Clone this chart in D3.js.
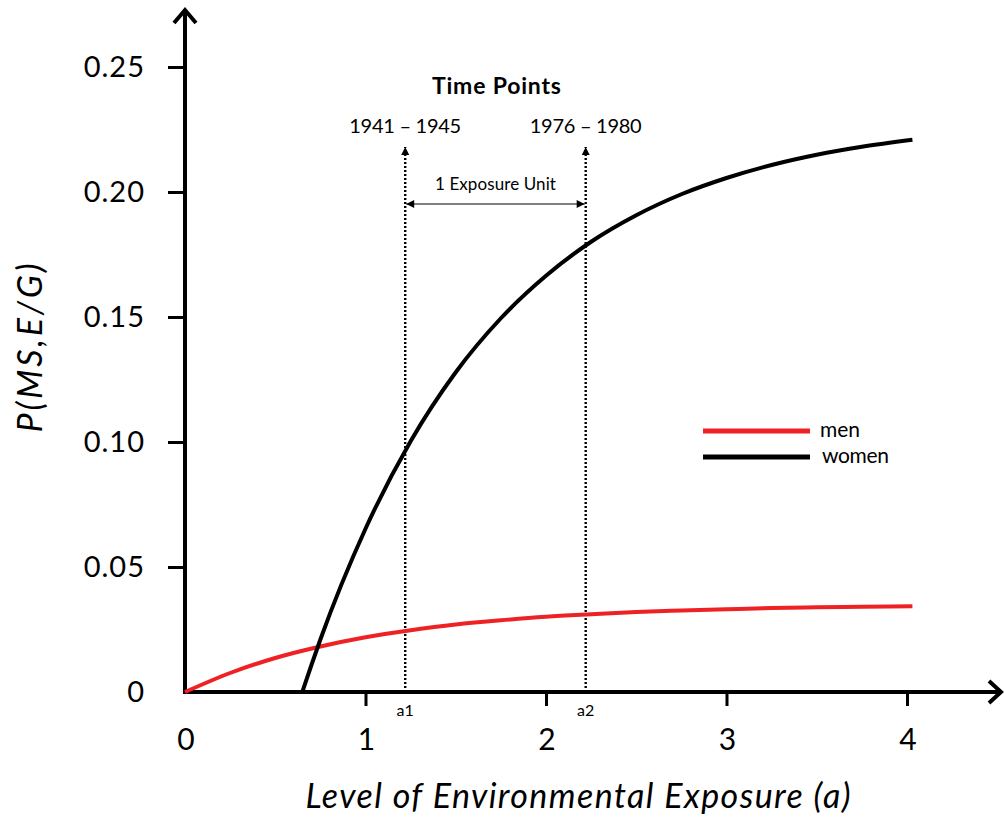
<!DOCTYPE html>
<html>
<head>
<meta charset="utf-8">
<script src="https://cdn.jsdelivr.net/npm/d3@7"></script>
<style>
  body { margin: 0; background: #fff; }
  text { font-family: Lato, "Open Sans", sans-serif; fill: #000; }
</style>
</head>
<body>
<div id="chart"></div>
<script>
// values
var xTicks = [0, 1, 2, 3, 4];
var yTicks = [0, 0.05, 0.10, 0.15, 0.20, 0.25];
var yTickLabels = ["0", "0.05", "0.10", "0.15", "0.20", "0.25"];

var menX = [0, 0.25, 0.5, 0.75, 1, 1.25, 1.5, 1.75, 2, 2.25, 2.5, 2.75, 3, 3.25, 3.5, 3.75, 4.03];
var menY = [0, 0.0076, 0.0136, 0.0182, 0.0219, 0.0247, 0.0270, 0.0287, 0.0301, 0.0311, 0.0320, 0.0326, 0.0331, 0.0336, 0.0339, 0.0341, 0.0343];

var womenX = [0.65, 0.7, 0.75, 1, 1.25, 1.5, 1.75, 2, 2.25, 2.5, 2.75, 3, 3.25, 3.5, 3.75, 4.03];
var womenY = [0, 0.0107, 0.0210, 0.0653, 0.1003, 0.1279, 0.1495, 0.1665, 0.1801, 0.1907, 0.1991, 0.2056, 0.2108, 0.2149, 0.2181, 0.2209];

var timePoints = [1.22, 2.22];
var timeLabels = ["1941 \u2013 1945", "1976 \u2013 1980"];
var timeMarks = ["a1", "a2"];

var width = 1004, height = 818;
var x0 = 185, y0 = 692;

var svg = d3.select("#chart")
  .append("svg")
  .attr("width", width)
  .attr("height", height);

var x = d3.scaleLinear().domain([0, 4]).range([x0, 907]);
var y = d3.scaleLinear().domain([0, 0.25]).range([y0, 67]);

var defs = svg.append("defs");
defs.append("marker")
  .attr("id", "small")
  .attr("viewBox", "0 0 10 10")
  .attr("refX", 10).attr("refY", 5)
  .attr("markerWidth", 9).attr("markerHeight", 8)
  .attr("markerUnits", "userSpaceOnUse")
  .attr("orient", "auto-start-reverse")
  .append("path")
    .attr("d", "M0,0 L10,5 L0,10 Z")
    .attr("fill", "#000");

// x axis: ticks below
var xAxis = svg.append("g")
  .attr("transform", "translate(0," + y0 + ")")
  .call(d3.axisBottom(x).tickValues(xTicks.slice(1)).tickSize(14).tickFormat(""));
xAxis.select(".domain").remove();
xAxis.selectAll(".tick line").attr("stroke", "#000").attr("stroke-width", 3);

svg.selectAll("xlab")
  .data(xTicks)
  .enter()
  .append("text")
    .attr("x", function(d) { return x(d) + 1; })
    .attr("y", 750)
    .attr("text-anchor", "middle")
    .style("font-size", "30px")
    .text(function(d) { return d; });

// y axis: ticks on left
var yAxis = svg.append("g")
  .attr("transform", "translate(" + x0 + ",0)")
  .call(d3.axisLeft(y).tickValues(yTicks.slice(1)).tickSize(17).tickFormat(""));
yAxis.select(".domain").remove();
yAxis.selectAll(".tick line").attr("stroke", "#000").attr("stroke-width", 3);

svg.selectAll("ylab")
  .data(yTicks)
  .enter()
  .append("text")
    .attr("x", 145)
    .attr("y", function(d) { return y(d); })
    .attr("dy", "0.36em")
    .attr("text-anchor", "end")
    .style("font-size", "29px")
    .style("letter-spacing", "1px")
    .text(function(d, i) { return yTickLabels[i]; });

// axis lines with open arrow heads
svg.append("line")
  .attr("x1", x0).attr("y1", y0 + 2)
  .attr("x2", x0).attr("y2", 11)
  .attr("stroke", "#000").attr("stroke-width", 4);
svg.append("path")
  .attr("d", "M" + (x0 - 11) + ",23 L" + x0 + ",10 L" + (x0 + 11) + ",23")
  .attr("fill", "none").attr("stroke", "#000").attr("stroke-width", 4);
svg.append("line")
  .attr("x1", x0 - 2).attr("y1", y0)
  .attr("x2", 1000).attr("y2", y0)
  .attr("stroke", "#000").attr("stroke-width", 4);
svg.append("path")
  .attr("d", "M989," + (y0 - 11) + " L1001," + y0 + " L989," + (y0 + 11))
  .attr("fill", "none").attr("stroke", "#000").attr("stroke-width", 4);

// time point verticals
svg.selectAll("tp")
  .data(timePoints)
  .enter()
  .append("line")
    .attr("x1", function(d) { return x(d); })
    .attr("x2", function(d) { return x(d); })
    .attr("y1", y0)
    .attr("y2", 147)
    .attr("stroke", "#000")
    .attr("stroke-width", 2.4)
    .attr("stroke-dasharray", "2,2")
    .attr("marker-end", "url(#small)");

svg.selectAll("tplab")
  .data(timePoints)
  .enter()
  .append("text")
    .attr("x", function(d) { return x(d); })
    .attr("y", 133)
    .attr("text-anchor", "middle")
    .attr("textLength", 112)
    .style("font-size", "20px")
    .text(function(d, i) { return timeLabels[i]; });

svg.selectAll("tpmark")
  .data(timePoints)
  .enter()
  .append("text")
    .attr("x", function(d) { return x(d); })
    .attr("y", 716)
    .attr("text-anchor", "middle")
    .style("font-size", "16px")
    .text(function(d, i) { return timeMarks[i]; });

svg.append("text")
  .attr("x", (x(timePoints[0]) + x(timePoints[1])) / 2 + 1)
  .attr("y", 94)
  .attr("text-anchor", "middle")
  .attr("textLength", 129)
  .style("font-size", "23px")
  .style("font-weight", "bold")
  .text("Time Points");

// 1 exposure unit double arrow
svg.append("line")
  .attr("x1", x(timePoints[0]) + 1).attr("y1", 204)
  .attr("x2", x(timePoints[1]) - 1).attr("y2", 204)
  .attr("stroke", "#000").attr("stroke-width", 1)
  .attr("marker-start", "url(#small)")
  .attr("marker-end", "url(#small)");
svg.append("text")
  .attr("x", (x(timePoints[0]) + x(timePoints[1])) / 2)
  .attr("y", 190)
  .attr("text-anchor", "middle")
  .attr("textLength", 121)
  .style("font-size", "17px")
  .text("1 Exposure Unit");

// curves
var line = d3.line()
  .x(function(d) { return x(d[0]); })
  .y(function(d) { return y(d[1]); })
  .curve(d3.curveMonotoneX);

svg.append("path")
  .datum(menX.map(function(v, i) { return [v, menY[i]]; }))
  .attr("d", line)
  .attr("fill", "none")
  .attr("stroke", "#ee2224")
  .attr("stroke-width", 4);

svg.append("path")
  .datum(womenX.map(function(v, i) { return [v, womenY[i]]; }))
  .attr("d", line)
  .attr("fill", "none")
  .attr("stroke", "#000")
  .attr("stroke-width", 4);

// legend
var legend = [["men", "#ee2224", 431, 40], ["women", "#000", 457, 67]];
svg.selectAll("legline")
  .data(legend)
  .enter()
  .append("line")
    .attr("x1", 703).attr("x2", 810)
    .attr("y1", function(d) { return d[2]; })
    .attr("y2", function(d) { return d[2]; })
    .attr("stroke", function(d) { return d[1]; })
    .attr("stroke-width", 5);
svg.selectAll("legtext")
  .data(legend)
  .enter()
  .append("text")
    .attr("x", function(d, i) { return 820 + i * 2; })
    .attr("y", function(d) { return d[2] + 6; })
    .attr("textLength", function(d) { return d[3]; })
    .style("font-size", "21px")
    .text(function(d) { return d[0]; });

// axis titles
svg.append("text")
  .attr("transform", "translate(42,348)rotate(-90)")
  .attr("text-anchor", "middle")
  .attr("textLength", 169)
  .style("font-size", "34px")
  .style("font-style", "italic")
  .text("P(MS,E/G)");

svg.append("text")
  .attr("x", 578)
  .attr("y", 808)
  .attr("text-anchor", "middle")
  .attr("textLength", 545)
  .style("font-size", "34px")
  .style("font-style", "italic")
  .text("Level of Environmental Exposure (a)");
</script>
</body>
</html>
